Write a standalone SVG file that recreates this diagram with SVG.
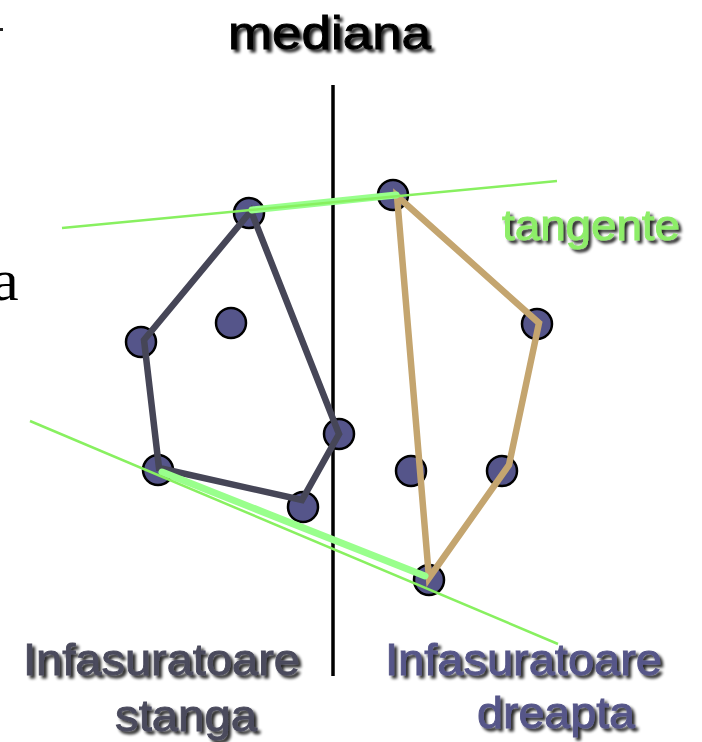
<svg xmlns="http://www.w3.org/2000/svg" width="702" height="742" viewBox="0 0 702 742">
<style>
.pt{fill:#55558a;stroke:#000;stroke-width:2.5}
.hl{fill:none;stroke:#464657;stroke-width:6.5;stroke-linejoin:miter}
.hr{fill:none;stroke:#c4a56f;stroke-width:6.5;stroke-linejoin:miter}
.tg{stroke:#88f060;stroke-width:2.5;fill:none}
.br{stroke:#99ff8c;stroke-width:7;fill:none;stroke-linecap:round}
.lbl{font-family:"Liberation Sans",Arial,sans-serif;filter:url(#sh);stroke-width:0.9}
</style>
<defs>
<filter id="sh" x="-10%" y="-30%" width="130%" height="170%">
<feGaussianBlur in="SourceAlpha" stdDeviation="1.6"/>
<feOffset dx="3" dy="3" result="b"/>
<feComponentTransfer in="b" result="s"><feFuncA type="linear" slope="0.85"/></feComponentTransfer>
<feMerge><feMergeNode in="s"/><feMergeNode in="SourceGraphic"/></feMerge>
</filter>
</defs>
<rect width="702" height="742" fill="#fff"/>
<rect x="0" y="28" width="3" height="3" fill="#222"/>
<text x="-8" y="300" font-family="Liberation Serif,'Times New Roman',serif" font-size="60" fill="#000">a</text>
<g id="median"><line x1="333" y1="85" x2="333" y2="676" stroke="#000" stroke-width="3.5"/></g>
<g id="points">
<circle id="p1" class="pt" cx="249" cy="213" r="15"/>
<circle id="p2" class="pt" cx="141" cy="342" r="15"/>
<circle id="p3" class="pt" cx="231" cy="323" r="15"/>
<circle id="p4" class="pt" cx="339" cy="434" r="15"/>
<circle id="p5" class="pt" cx="158" cy="470" r="15"/>
<circle id="p6" class="pt" cx="303" cy="507" r="15"/>
<circle id="r1" class="pt" cx="393" cy="195" r="15"/>
<circle id="r2" class="pt" cx="537" cy="324" r="15"/>
<circle id="r3" class="pt" cx="411" cy="471" r="15"/>
<circle id="r4" class="pt" cx="502" cy="471" r="15"/>
<circle id="r5" class="pt" cx="429" cy="580" r="15"/>
</g>
<g id="connectors">
<polygon class="hl" points="251,211 144,340 159,468 302,500 339,434"/>
<polygon class="hr" points="397,196 539,323 509,465 429,578"/>
<line class="br" x1="252" y1="210" x2="396" y2="195"/>
<line class="br" x1="162" y1="472" x2="425" y2="576"/>
<line class="tg" x1="62" y1="228" x2="557" y2="181"/>
<line class="tg" x1="30" y1="421" x2="558" y2="644"/>
</g>
<g id="labels">
<text class="lbl" x="228" y="49" font-size="46" fill="#000" stroke="#000" textLength="203" lengthAdjust="spacingAndGlyphs">mediana</text>
<text class="lbl" x="502" y="240" font-size="43" fill="#8ded68" stroke="#8ded68" textLength="178" lengthAdjust="spacingAndGlyphs">tangente</text>
<text class="lbl" x="23" y="675" font-size="45" fill="#4b4b5d" stroke="#4b4b5d" textLength="277" lengthAdjust="spacingAndGlyphs">Infasuratoare</text>
<text class="lbl" x="115" y="731" font-size="45" fill="#4b4b5d" stroke="#4b4b5d" textLength="142" lengthAdjust="spacingAndGlyphs">stanga</text>
<text class="lbl" x="385" y="675" font-size="45" fill="#565689" stroke="#565689" textLength="277" lengthAdjust="spacingAndGlyphs">Infasuratoare</text>
<text class="lbl" x="477" y="728" font-size="45" fill="#565689" stroke="#565689" textLength="158" lengthAdjust="spacingAndGlyphs">dreapta</text>
</g>
</svg>
